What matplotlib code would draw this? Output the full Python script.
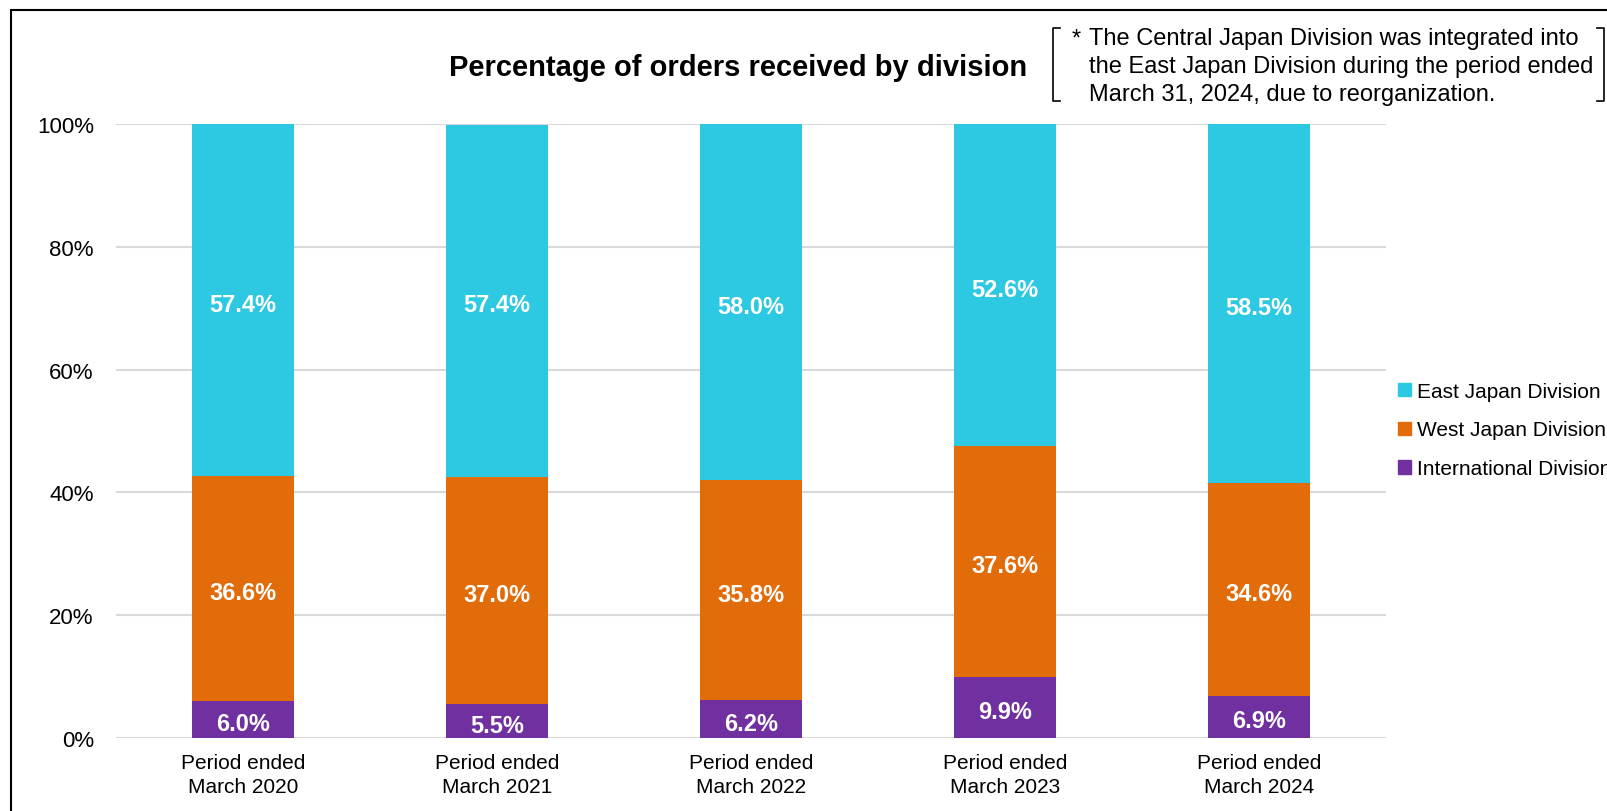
import numpy as np
import matplotlib
matplotlib.use('Agg')
from matplotlib import pyplot as plt, rcParams
from matplotlib.lines import Line2D
from matplotlib.patches import Rectangle

rcParams.update({'font.family': ['Liberation Sans', 'DejaVu Sans']})

periods = ['Period ended\nMarch 2020', 'Period ended\nMarch 2021',
           'Period ended\nMarch 2022', 'Period ended\nMarch 2023',
           'Period ended\nMarch 2024']
international = [6.0, 5.5, 6.2, 9.9, 6.9]
west = [36.6, 37.0, 35.8, 37.6, 34.6]
east = [57.4, 57.4, 58.0, 52.6, 58.5]
series_names = ['East Japan Division', 'West Japan Division', 'International Division']
y_ticks = [0, 20, 40, 60, 80, 100]
note = ('The Central Japan Division was integrated into\n'
        'the East Japan Division during the period ended\n'
        'March 31, 2024, due to reorganization.')

c_east = '#2DC8E1'
c_west = '#E36C0A'
c_int = '#7030A0'
grid_color = '#D9D9D9'

W, H = 1607, 812
fig = plt.figure(figsize=(W / 100, H / 100), dpi=100)
ax = fig.add_axes((116 / W, 73 / H, 1270 / W, 614 / H))

x = np.arange(len(periods))
bw = 0.4
bottom_west = np.array(international)
bottom_east = bottom_west + np.array(west)
ax.bar(x, international, bw, color=c_int, zorder=3)
ax.bar(x, west, bw, bottom=bottom_west, color=c_west, zorder=3)
ax.bar(x, east, bw, bottom=bottom_east, color=c_east, zorder=3)

# подписи по центру сегментів
for vals, bottoms in ((international, np.zeros(len(x))), (west, bottom_west),
                      (east, bottom_east)):
    for xi, v, b in zip(x, vals, bottoms):
        ax.annotate('{:.1f}%'.format(v), xy=(xi, b + v / 2), xytext=(0, -3),
                    textcoords='offset points', ha='center', va='center',
                    color='white', fontsize=17, fontweight='bold', zorder=4)

ax.set_xlim(-0.5, len(periods) - 0.5)
ax.set_ylim(0, 100)
ax.set_yticks(y_ticks)
ax.set_yticklabels(['{}%'.format(t) for t in y_ticks])
ax.set_xticks(x)
ax.set_xticklabels(periods, fontsize=15, linespacing=1.3)
ax.tick_params(axis='y', length=0, pad=16, labelsize=16)
ax.tick_params(axis='x', length=0, pad=11)
ax.grid(axis='y', color=grid_color, lw=1.5, zorder=0)
for s in ax.spines.values():
    s.set_visible(False)

# legend on the right (partly cut off, as in the source)
handles = [Rectangle((0, 0), 1, 1, color=c) for c in (c_east, c_west, c_int)]
fig.legend(handles, series_names, loc='center left',
           bbox_to_anchor=(1398 / W, 1 - 431 / H), frameon=False,
           fontsize=15, handlelength=0.6, handleheight=0.6,
           handletextpad=0.3, labelspacing=0.95, borderpad=0,
           borderaxespad=0)

fig.text(738 / W, 1 - 68 / H, 'Percentage of orders received by division',
         ha='center', va='center', fontsize=21, fontweight='bold')

# note with brackets
fig.text(1072 / W, 1 - 40 / H, '*', ha='left', va='center', fontsize=17)
fig.text(1089 / W, 1 - 67 / H, note, ha='left', va='center', fontsize=17,
         linespacing=1.37)

def bracket(x0, dx, y0=29, y1=102):
    xs = [(x0 + dx) / W, x0 / W, x0 / W, (x0 + dx) / W]
    ys = [1 - y0 / H, 1 - y0 / H, 1 - y1 / H, 1 - y1 / H]
    fig.add_artist(Line2D(xs, ys, color='black', lw=1.2))

bracket(1053, 7)
bracket(1604, -7)

# outer frame (right and bottom edges are outside the picture)
fig.add_artist(Rectangle((11 / W, -0.1), 1.2, 1 - 11 / H + 0.1,
                         transform=fig.transFigure, fill=False,
                         edgecolor='black', lw=1.5))

plt.savefig('out.png', dpi=100)
